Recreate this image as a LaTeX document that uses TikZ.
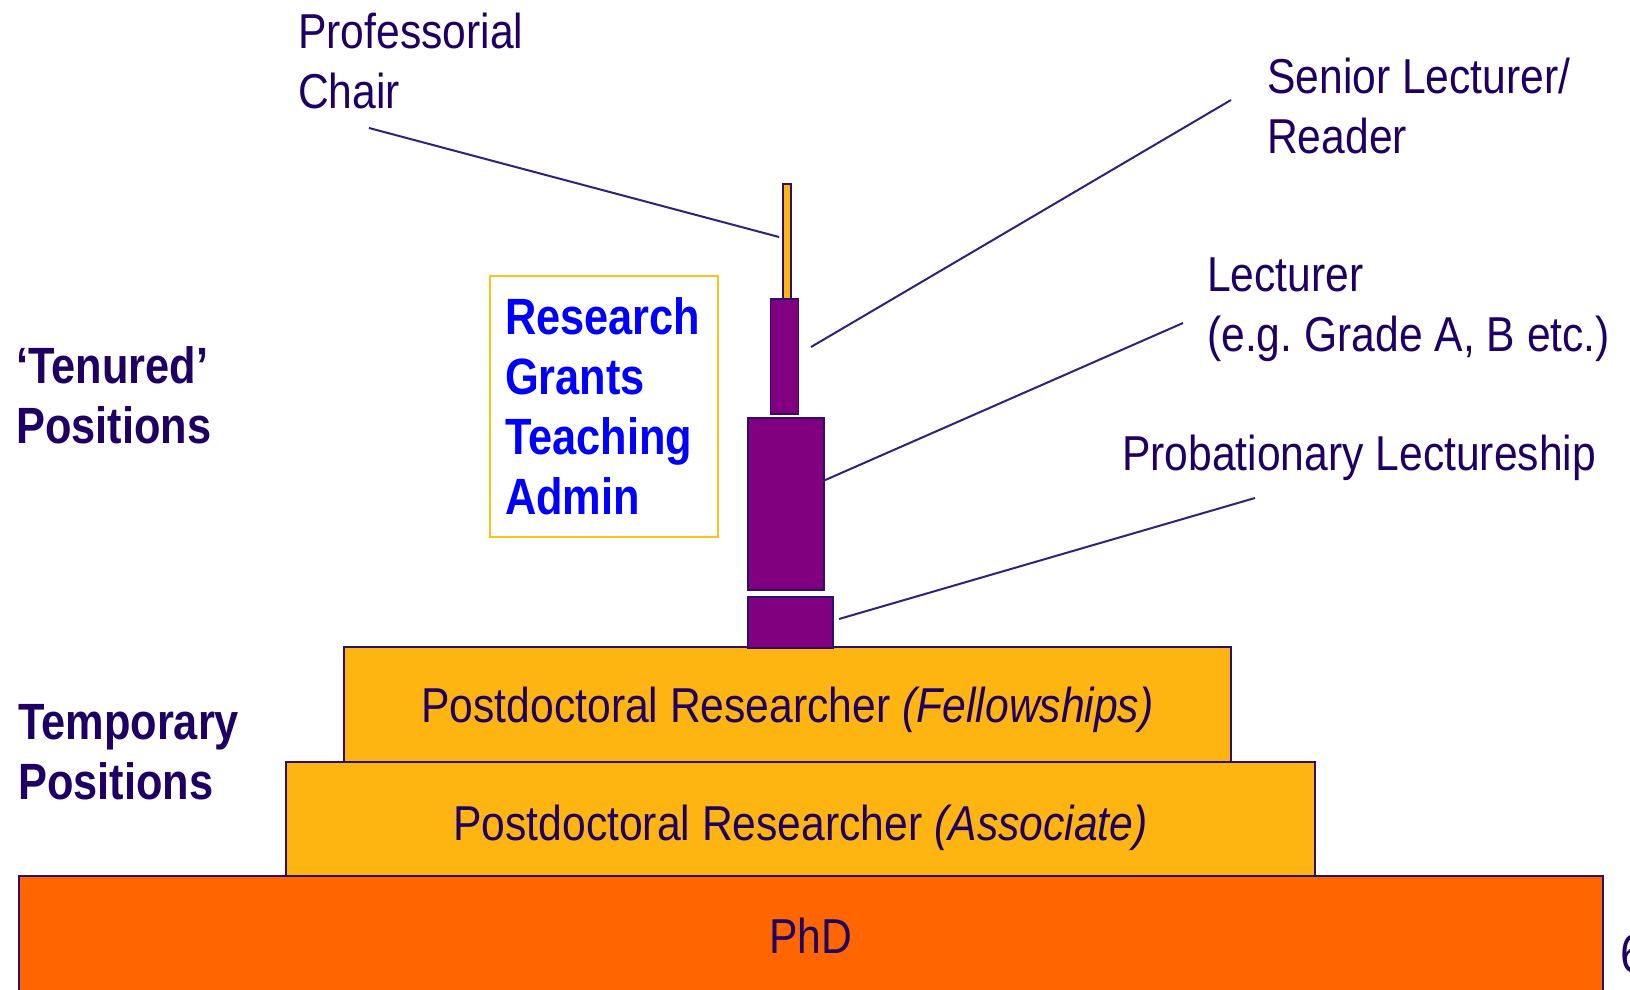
\documentclass[tikz,border=0pt]{standalone}
\usepackage{fontspec}
\setmainfont{Liberation Sans}
\newfontfamily\regf{Liberation Sans}[FakeStretch=0.87]
\newfontfamily\boldf{Liberation Sans}[FakeStretch=0.85]
\definecolor{txt}{HTML}{1E0064}
\definecolor{edge}{HTML}{2A1070}
\definecolor{linec}{HTML}{33207A}
\definecolor{plum}{HTML}{800080}
\definecolor{gold}{HTML}{FFB511}
\definecolor{phdc}{HTML}{FF6600}
\definecolor{resb}{HTML}{FFC21A}
\definecolor{resblue}{HTML}{0000FF}
\frenchspacing
\begin{document}
\begin{tikzpicture}[x=1pt,y=-1pt,
  lbl/.style={font=\regf\fontsize{49}{60}\selectfont, text=txt, inner sep=0pt, align=left},
  side/.style={font=\boldf\bfseries\fontsize{51}{60}\selectfont, text=txt, inner sep=0pt, align=left},
  tier/.style={draw=edge, line width=1.5pt, inner sep=0pt, font=\regf\fontsize{49}{60}\selectfont, text=txt, text depth=0pt},
  block/.style={draw=edge, line width=1.5pt, fill=plum, inner sep=0pt},
  conn/.style={draw=linec, line width=2pt},
]
\useasboundingbox[fill=white] (0,0) rectangle (1630,990);

% base tiers
\node[tier, fill=phdc, minimum width=1584pt, minimum height=119pt, text height=35pt] (phd) at (811,935.5) {PhD};
\node[tier, fill=gold, minimum width=1029pt, minimum height=114pt, text height=42pt] (assoc) at (800.5,819) {Postdoctoral Researcher \textit{(Associate)}};
\node[tier, fill=gold, minimum width=887pt, minimum height=115pt, text height=35pt] (fellow) at (787.5,704.5) {Postdoctoral Researcher \textit{(Fellowships)}};

% tower
\node[block, fill=gold, minimum width=8pt, minimum height=115pt] (rod) at (787,241.5) {};
\node[block, minimum width=28pt, minimum height=115pt] (senior) at (784.5,356.5) {};
\node[block, minimum width=76pt, minimum height=172pt] (lect) at (786,504) {};
\node[block, minimum width=85pt, minimum height=51pt] (prob) at (790.5,622.5) {};

% research box
\node[draw=resb, line width=1.5pt, fill=white, minimum width=228pt, minimum height=261pt,
      text width=198pt, inner xsep=15pt, inner ysep=0pt, align=left,
      font=\boldf\bfseries\fontsize{51}{60}\selectfont, text=resblue] (res) at (604,406.5)
      {Research\\Grants\\Teaching\\Admin};

% labels
\node[lbl, anchor=north west] (profl) at (298,13) {Professorial\\Chair};
\node[lbl, anchor=north west] (senl) at (1267,58) {Senior Lecturer/\\Reader};
\node[lbl, anchor=north west] (lecl) at (1207,258) {Lecturer\\(e.g. Grade A, B etc.)};
\node[lbl, anchor=base west] (probl) at (1122,470) {Probationary Lectureship};
\node[side, anchor=north west] (tenl) at (16,346) {‘Tenured’\\Positions};
\node[side, anchor=north west] (templ) at (18,704) {Temporary\\Positions};
\node[lbl, font=\regf\fontsize{54}{60}\selectfont, anchor=base west] (pg) at (1620,972) {6};

% connectors
\coordinate (c1a) at (369,128);  \coordinate (c1b) at (779,237);
\coordinate (c2a) at (1231,100); \coordinate (c2b) at (811,347);
\coordinate (c3a) at (1183,323); \coordinate (c3b) at (823,481);
\coordinate (c4a) at (1255,498); \coordinate (c4b) at (839,619);
\draw[conn] (c1a) -- (c1b);
\draw[conn] (c2a) -- (c2b);
\draw[conn] (c3a) -- (c3b);
\draw[conn] (c4a) -- (c4b);
\end{tikzpicture}
\end{document}
